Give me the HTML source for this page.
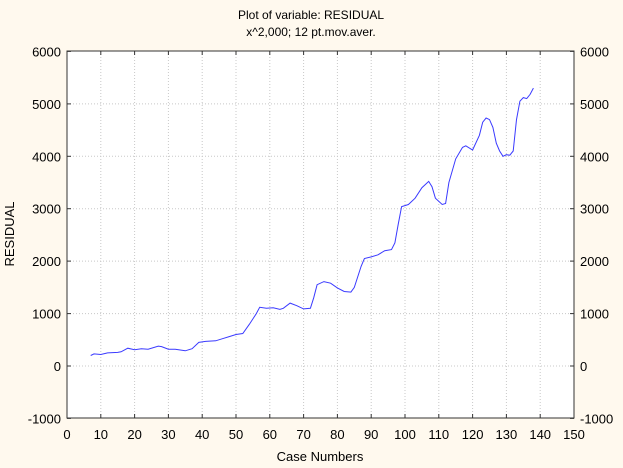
<!DOCTYPE html>
<html><head><style>
body{margin:0;background:#fff9ee;}
svg{display:block;font-family:"Liberation Sans",sans-serif;}
</style></head><body>
<svg id="s" width="623" height="468" xmlns="http://www.w3.org/2000/svg">
<rect width="623" height="468" fill="#fff9ee"/>
<rect x="67" y="51" width="507" height="367" fill="#fff"/>
<g id="grid" stroke="#c8c8c8" stroke-dasharray="1,2" stroke-width="1"></g>
<rect x="67" y="51" width="507" height="367" fill="none" stroke="#333" stroke-width="1"/>
<g id="ticks" stroke="#333"></g>
<g id="lab" font-size="13" fill="#000"></g>
<text x="311" y="19" font-size="12" text-anchor="middle">Plot of variable: RESIDUAL</text>
<text x="311" y="36" font-size="12" text-anchor="middle">x^2,000; 12 pt.mov.aver.</text>
<text x="320" y="461" font-size="13" text-anchor="middle">Case Numbers</text>
<text transform="translate(14,234) rotate(-90)" font-size="13" text-anchor="middle">RESIDUAL</text>
<path id="ln" fill="none" stroke="#3a3aff" stroke-width="1"/>
</svg>
<script>
var X=c=>67+3.38*c, Y=v=>366-v*0.05243;
var g=document.getElementById('grid'),t=document.getElementById('ticks'),l=document.getElementById('lab'),ns='http://www.w3.org/2000/svg';
function el(p,n,a,txt){var e=document.createElementNS(ns,n);for(var k in a)e.setAttribute(k,a[k]);if(txt!=null)e.textContent=txt;p.appendChild(e);}
for(var c=0;c<=150;c+=10){var x=X(c).toFixed(1);
 if(c>0&&c<150)el(g,'line',{x1:x,x2:x,y1:51,y2:418});
 el(t,'line',{x1:x,x2:x,y1:418,y2:414});el(t,'line',{x1:x,x2:x,y1:51,y2:55});
 el(l,'text',{x:x,y:439,'text-anchor':'middle'},c);}
for(var v=-1000;v<=6000;v+=1000){var y=Y(v).toFixed(1);
 if(v>-1000&&v<6000)el(g,'line',{x1:67,x2:574,y1:y,y2:y});
 el(t,'line',{x1:67,x2:71,y1:y,y2:y});el(t,'line',{x1:574,x2:570,y1:y,y2:y});
 el(l,'text',{x:61,y:+y+5,'text-anchor':'end'},v);
 el(l,'text',{x:580,y:+y+5,'text-anchor':'start'},v);}
var d=[[7,200],[8,230],[10,220],[12,250],[15,260],[16,270],[18,340],[20,310],[22,330],[24,320],[27,380],[28,370],[30,320],[32,320],[35,290],[37,330],[39,450],[41,470],[44,480],[46,520],[48,560],[50,600],[52,620],[54,800],[56,1000],[57,1120],[59,1100],[61,1110],[63,1080],[64,1100],[66,1200],[68,1150],[70,1090],[72,1100],[73,1300],[74,1550],[76,1610],[78,1580],[80,1490],[82,1420],[84,1410],[85,1500],[87,1900],[88,2050],[90,2080],[92,2120],[94,2200],[96,2220],[97,2350],[98,2700],[99,3040],[101,3080],[103,3200],[105,3400],[107,3520],[108,3420],[109,3200],[111,3080],[112,3100],[113,3500],[115,3950],[117,4170],[118,4200],[120,4120],[122,4400],[123,4650],[124,4730],[125,4700],[126,4550],[127,4250],[128,4100],[129,4000],[130,4030],[131,4020],[132,4100],[133,4700],[134,5050],[135,5120],[136,5100],[137,5180],[138,5300]];
document.getElementById('ln').setAttribute('d','M'+d.map(p=>X(p[0]).toFixed(1)+','+Y(p[1]).toFixed(1)).join('L'));
</script>
</body></html>
